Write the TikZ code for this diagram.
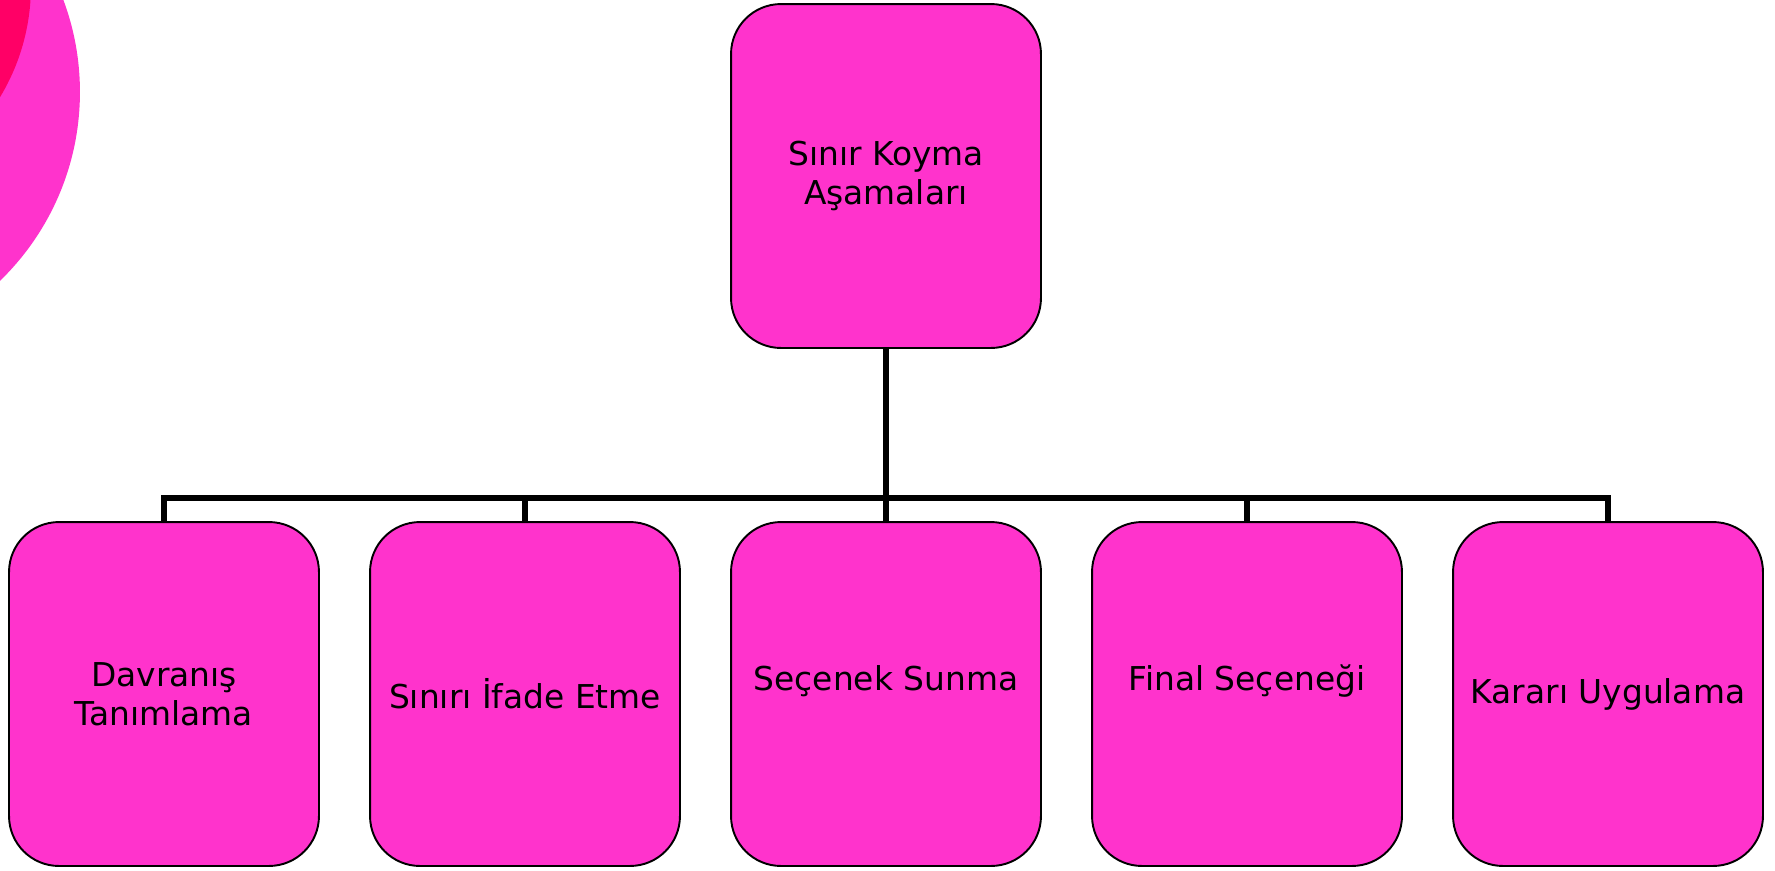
\documentclass[tikz,border=0pt]{standalone}
\usepackage{fontspec}
\setmainfont{DejaVu Sans}
\definecolor{boxpink}{RGB}{255,51,204}
\definecolor{deeppink}{RGB}{255,0,102}
\tikzset{
	stagebox/.style={draw, line width=1.1pt, fill=boxpink, rounded corners=1cm,
		minimum width=6.2cm, minimum height=6.88cm, align=center,
		font=\fontsize{18.7}{22}\selectfont, inner sep=0pt},
	link/.style={line width=3.6pt},
	raisedtext/.style={font=\fontsize{18.7}{22}\selectfont, yshift=0.25cm}
}
\begin{document}
\begin{tikzpicture}[x=0.02cm, y=-0.02cm]
	\useasboundingbox (0,0) rectangle (1775,870);
	
	% corner decoration
	\begin{scope}
	\clip (0,0) rectangle (1775,870);
	\fill[boxpink] (-183,92) circle[radius=5.26cm];
	\fill[deeppink] (-184,-14) circle[radius=4.3cm];
	\end{scope}
	
	\node[stagebox] at (886,176)   (top) {Sınır Koyma\\ Aşamaları};
	
	\node[stagebox] at (164,694)   (s1) {Davranış\\ Tanımlama};
	\node[stagebox] at (525,694)   (s2) {Sınırı İfade Etme};
	\node[stagebox, label={[raisedtext, name=t3]center:Seçenek Sunma}] at (886,694)  (s3) {};
	\node[stagebox, label={[raisedtext, name=t4]center:Final Seçeneği}] at (1247,694) (s4) {};
	\node[stagebox] at (1608,694)  (s5) {Kararı Uygulama};
	
	\coordinate (bus) at (886,498);
	
	% draw edges
	\draw[link] (top.south) -- (bus);
	\draw[link] (s1.north) -- (s1.north |- bus) -- (s5.north |- bus) -- (s5.north);
	\draw[link] (s2.north |- bus) -- (s2.north);
	\draw[link] (s3.north |- bus) -- (s3.north);
	\draw[link] (s4.north |- bus) -- (s4.north);
	
\end{tikzpicture}
\end{document}
